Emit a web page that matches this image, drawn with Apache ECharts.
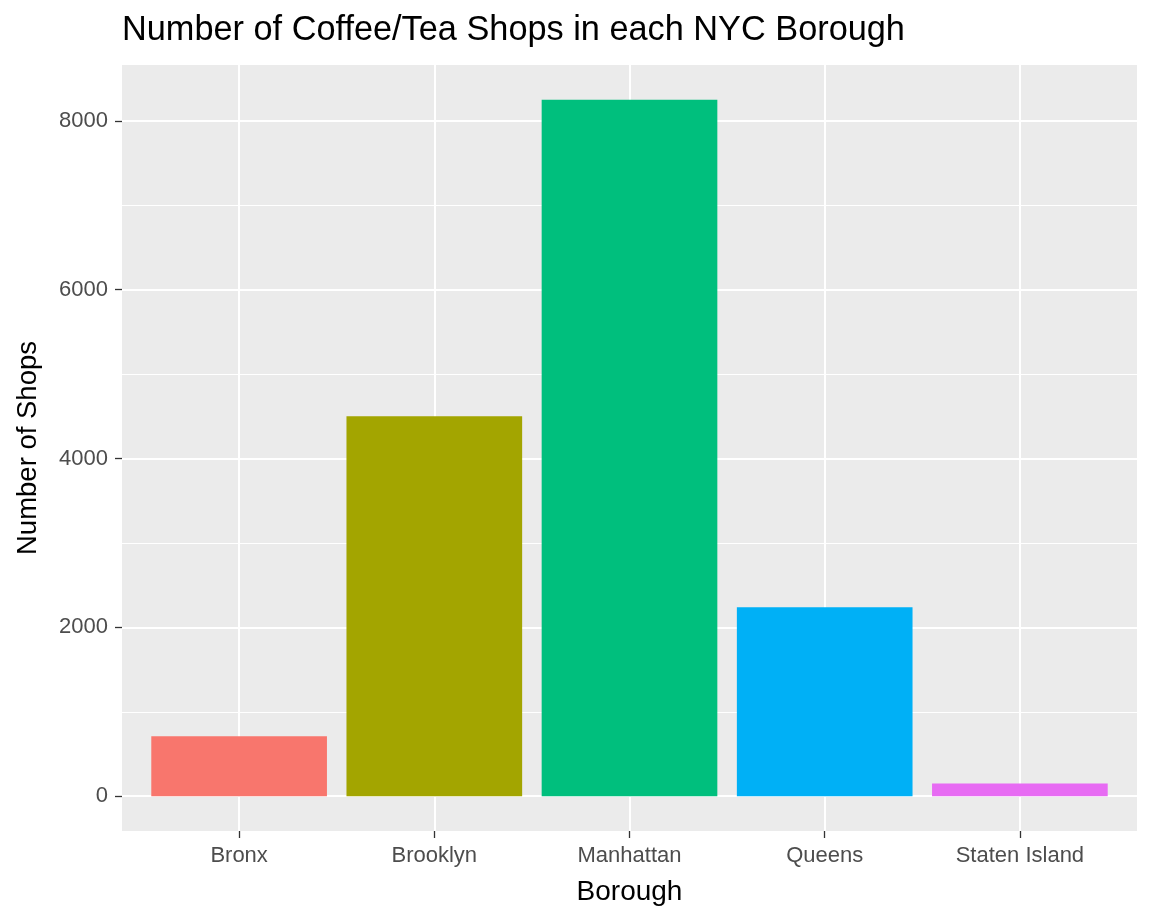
<!DOCTYPE html>
<html>
<head>
<meta charset="utf-8">
<script src="https://cdn.jsdelivr.net/npm/echarts@6/dist/echarts.min.js"></script>
<style>html,body{margin:0;padding:0;background:#fff}#c{width:1152px;height:921px}</style>
</head>
<body>
<div id="c"></div>
<script>
const categories = ["Bronx", "Brooklyn", "Manhattan", "Queens", "Staten Island"];
const shopCounts = [711, 4502, 8249, 2237, 150];
const barColors = ["#F8766D", "#A3A500", "#00BF7D", "#00B0F6", "#E76BF3"];
const yMajorTicks = [0, 2000, 4000, 6000, 8000];
const yMinorTicks = [1000, 3000, 5000, 7000];

const positions = categories.map((_, i) => i + 1);
const maxVal = Math.max(...shopCounts);
const yMin = -0.05 * maxVal, yMax = 1.05 * maxVal;
const FONT = '"Liberation Sans", Arial, sans-serif';

const chart = echarts.init(document.getElementById('c'), null, {renderer: 'canvas'});
chart.setOption({
  animation: false,
  backgroundColor: '#FFFFFF',
  title: {
    text: 'Number of Coffee/Tea Shops in each NYC Borough',
    left: 122, top: 14, padding: 0,
    textStyle: {fontFamily: FONT, fontSize: 34.3, fontWeight: 'normal', color: '#000000'}
  },
  grid: {
    left: 122, right: 15, top: 65, bottom: 90,
    show: true, backgroundColor: '#EBEBEB', borderWidth: 0, containLabel: false
  },
  xAxis: {
    type: 'value', min: 0.4, max: 5.6,
    name: 'Borough', nameLocation: 'middle', nameGap: 47,
    nameTextStyle: {fontFamily: FONT, fontSize: 28, color: '#000000'},
    axisLine: {show: false, onZero: false},
    axisTick: {show: true, length: 7, customValues: positions, lineStyle: {color: '#333333', width: 1.3}},
    axisLabel: {
      customValues: positions, margin: 14,
      fontFamily: FONT, fontSize: 22, color: '#4D4D4D',
      formatter: v => categories[Math.round(v) - 1] || ''
    },
    splitLine: {show: true, lineStyle: {color: '#FFFFFF', width: 2}},
    minorSplitLine: {show: false}
  },
  yAxis: [{
    type: 'value', min: yMin, max: yMax,
    name: 'Number of Shops', nameLocation: 'middle', nameGap: 80, nameRotate: 90,
    nameTextStyle: {fontFamily: FONT, fontSize: 27.5, color: '#000000'},
    axisLine: {show: false, onZero: false},
    axisTick: {show: true, length: 7, customValues: yMajorTicks, lineStyle: {color: '#333333', width: 1.3}},
    axisLabel: {customValues: yMajorTicks, margin: 14, fontFamily: FONT, fontSize: 22, color: '#4D4D4D',
      formatter: v => String(Math.round(v))},
    splitLine: {show: true, lineStyle: {color: '#FFFFFF', width: 2}}
  }, {
    type: 'value', min: yMin, max: yMax, position: 'left',
    axisLine: {show: false, onZero: false},
    axisTick: {show: false, customValues: yMinorTicks},
    axisLabel: {show: false, customValues: yMinorTicks},
    splitLine: {show: true, lineStyle: {color: '#FFFFFF', width: 1}}
  }],
  series: [{
    type: 'bar',
    barWidth: '90%',
    yAxisIndex: 0,
    data: positions.map((p, i) => ({value: [p, shopCounts[i]], itemStyle: {color: barColors[i]}})),
    z: 5
  }]
});
</script>
</body>
</html>
